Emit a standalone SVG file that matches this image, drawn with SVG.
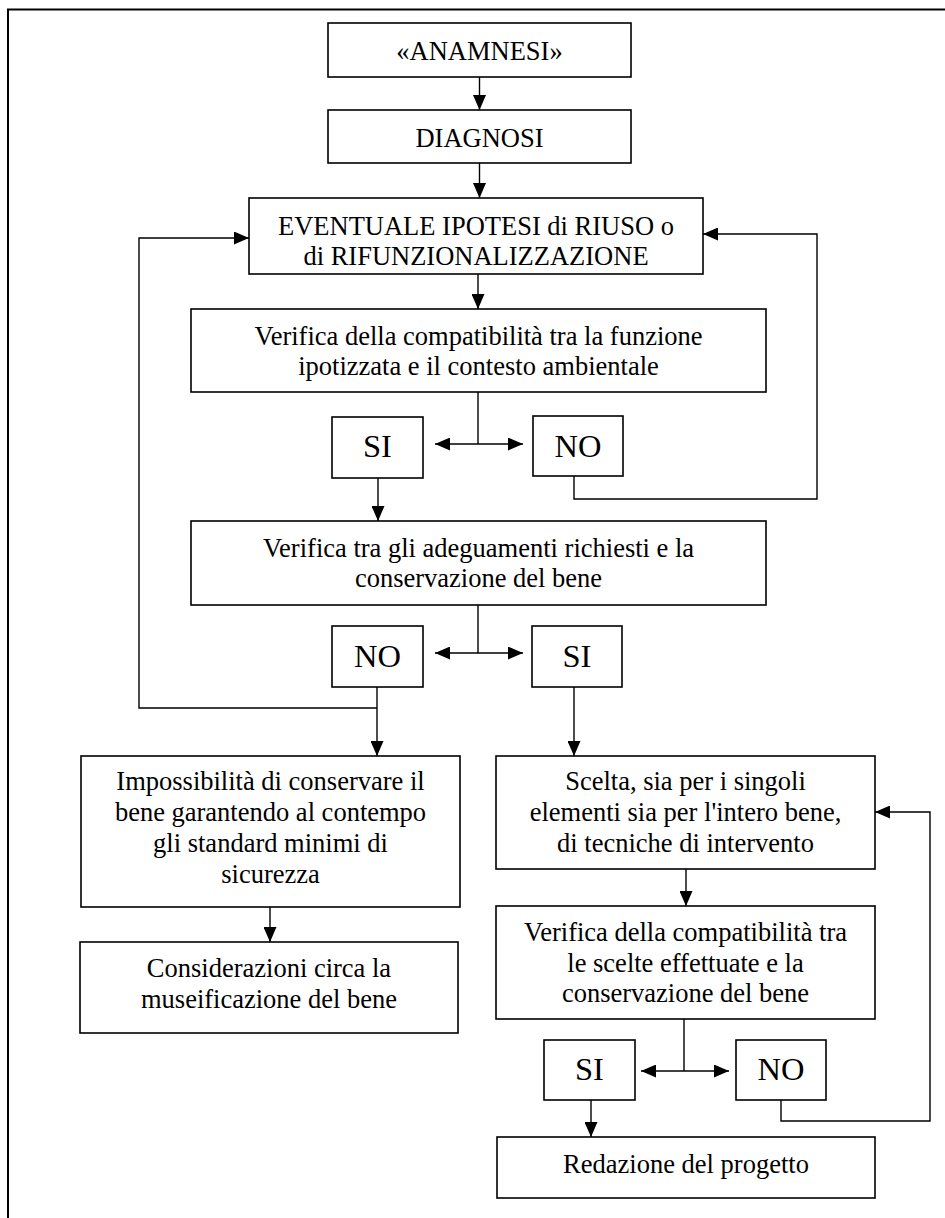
<svg xmlns="http://www.w3.org/2000/svg" width="945" height="1218" viewBox="0 0 945 1218">
<defs>
<style>
.box{fill:#fff;stroke:#000;stroke-width:1.6}
.t{font-family:"Liberation Serif","Times New Roman",serif;font-size:26.5px;fill:#000;text-anchor:middle}
.b{font-family:"Liberation Serif","Times New Roman",serif;font-size:32.5px;fill:#000;text-anchor:middle}
.c{fill:none;stroke:#000;stroke-width:1.4}
.a{marker-end:url(#ah)}
.d{marker-end:url(#ah);marker-start:url(#ah)}
</style>
<marker id="ah" markerUnits="userSpaceOnUse" markerWidth="15" markerHeight="13" refX="15" refY="6.5" orient="auto-start-reverse">
<path d="M0,0 L15,6.5 L0,13 z" fill="#000"/>
</marker>
</defs>
<rect width="945" height="1218" fill="#fff"/>
<path d="M945,9.5 H8 V1218" fill="none" stroke="#000" stroke-width="2"/>
<g id="connectors">
<path class="c a" d="M479.5,77 V110"/>
<path class="c a" d="M479.5,163 V198"/>
<path class="c a" d="M478,274 V309"/>
<path class="c" d="M478,392 V444"/>
<path class="c d" d="M435,444 H523"/>
<path class="c a" d="M574,476 V499 H817 V234 H703"/>
<path class="c a" d="M378,478 V521"/>
<path class="c" d="M478,605 V653"/>
<path class="c d" d="M435,653 H523"/>
<path class="c a" d="M377,687 V756"/>
<path class="c a" d="M377,708 H139 V238 H249"/>
<path class="c a" d="M574,687 V756"/>
<path class="c a" d="M270,907 V942"/>
<path class="c a" d="M686,869 V906"/>
<path class="c" d="M684,1019 V1071"/>
<path class="c d" d="M641,1071 H729"/>
<path class="c a" d="M781,1100 V1121 H930 V812 H875"/>
<path class="c a" d="M591,1100 V1137"/>
</g>
<g id="n1"><rect class="box" x="328" y="23" width="303" height="54"/><text class="t" x="479.5" y="60">«ANAMNESI»</text></g>
<g id="n2"><rect class="box" x="328" y="110" width="303" height="53"/><text class="t" x="479.5" y="147">DIAGNOSI</text></g>
<g id="n3"><rect class="box" x="249" y="198" width="454" height="76"/><text class="t" x="476" y="235">EVENTUALE IPOTESI di RIUSO o</text><text class="t" x="476" y="265">di RIFUNZIONALIZZAZIONE</text></g>
<g id="n4"><rect class="box" x="191" y="309" width="575" height="83"/><text class="t" x="478.5" y="345">Verifica della compatibilità tra la funzione</text><text class="t" x="478.5" y="375">ipotizzata e il contesto ambientale</text></g>
<g id="n5"><rect class="box" x="332" y="417" width="91" height="61"/><text class="b" x="377.5" y="457">SI</text></g>
<g id="n6"><rect class="box" x="533" y="416" width="90" height="60"/><text class="b" x="578" y="457">NO</text></g>
<g id="n7"><rect class="box" x="191" y="521" width="575" height="84"/><text class="t" x="478.5" y="557">Verifica tra gli adeguamenti richiesti e la</text><text class="t" x="478.5" y="587">conservazione del bene</text></g>
<g id="n8"><rect class="box" x="332" y="626" width="91" height="61"/><text class="b" x="377.5" y="667">NO</text></g>
<g id="n9"><rect class="box" x="532" y="626" width="90" height="61"/><text class="b" x="577" y="667">SI</text></g>
<g id="n10"><rect class="box" x="81" y="756" width="379" height="151"/><text class="t" x="270.5" y="790">Impossibilità di conservare il</text><text class="t" x="270.5" y="821">bene garantendo al contempo</text><text class="t" x="270.5" y="852">gli standard minimi di</text><text class="t" x="270.5" y="883">sicurezza</text></g>
<g id="n11"><rect class="box" x="496" y="756" width="379" height="113"/><text class="t" x="685.5" y="790">Scelta, sia per i singoli</text><text class="t" x="685.5" y="821">elementi sia per l'intero bene,</text><text class="t" x="685.5" y="852">di tecniche di intervento</text></g>
<g id="n12"><rect class="box" x="80" y="942" width="378" height="91"/><text class="t" x="269" y="977">Considerazioni circa la</text><text class="t" x="269" y="1008">museificazione del bene</text></g>
<g id="n13"><rect class="box" x="496" y="906" width="379" height="113"/><text class="t" x="685.5" y="941">Verifica della compatibilità tra</text><text class="t" x="685.5" y="972">le scelte effettuate e la</text><text class="t" x="685.5" y="1002">conservazione del bene</text></g>
<g id="n14"><rect class="box" x="544" y="1040" width="91" height="60"/><text class="b" x="589.5" y="1080">SI</text></g>
<g id="n15"><rect class="box" x="736" y="1040" width="90" height="60"/><text class="b" x="781" y="1080">NO</text></g>
<g id="n16"><rect class="box" x="497" y="1137" width="378" height="61"/><text class="t" x="686" y="1173">Redazione del progetto</text></g>
</svg>
